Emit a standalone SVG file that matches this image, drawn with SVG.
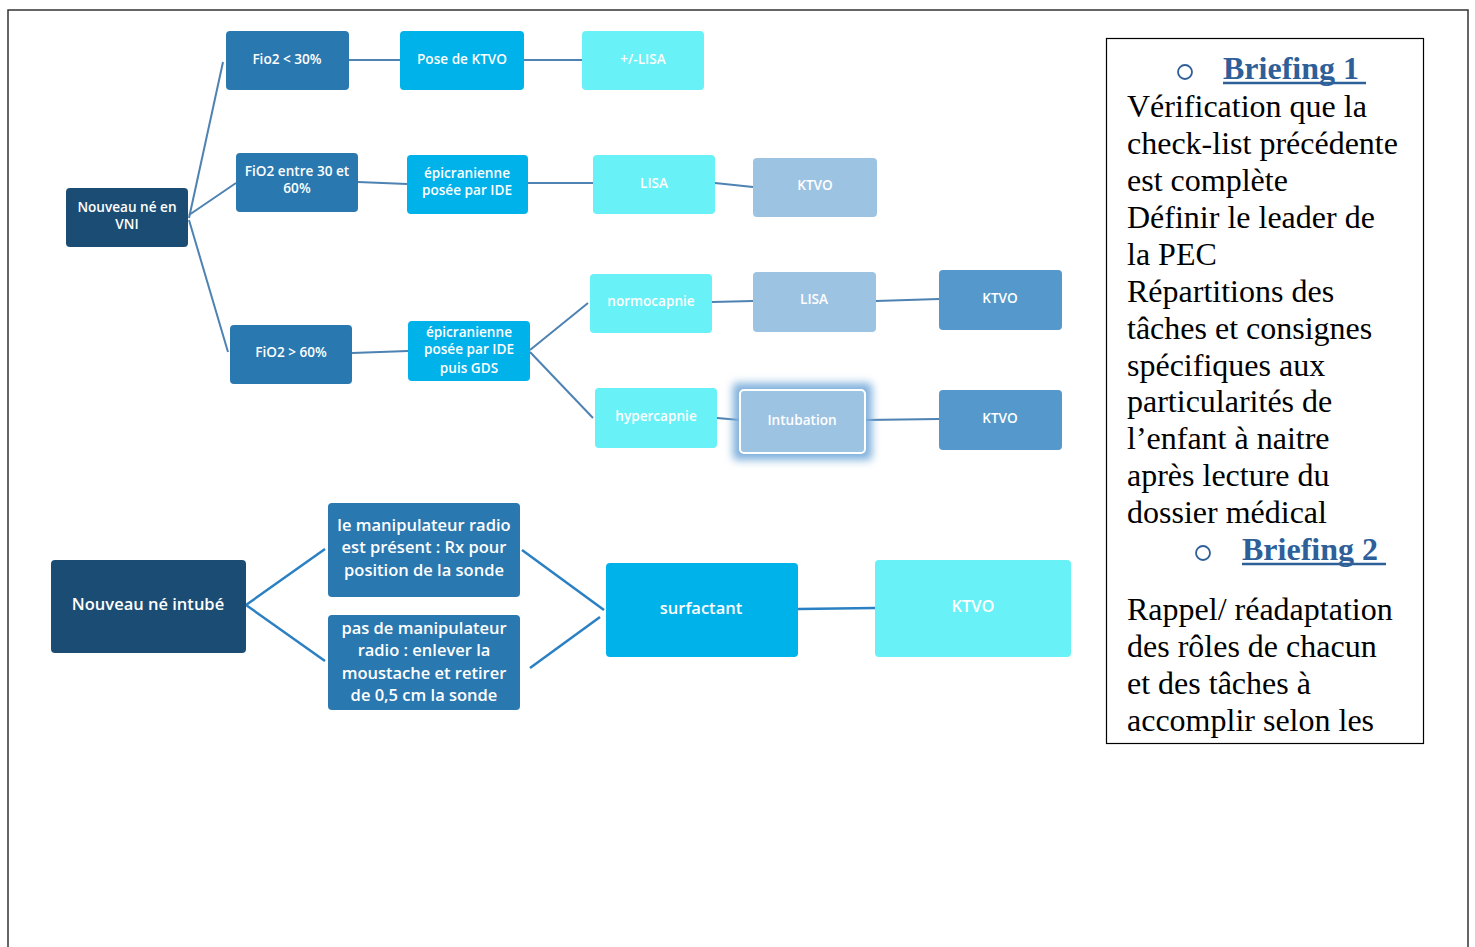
<svg xmlns="http://www.w3.org/2000/svg" width="1475" height="947" viewBox="0 0 1475 947">
<style>
.n rect{rx:4px;}
.t{font-family:"Open Sans","Liberation Sans",sans-serif;font-weight:600;fill:#ffffff;text-anchor:middle;}
.s{font-size:13.6px;}
.b{font-size:16.5px;}
.dk{fill:#1b4d74;}
.md{fill:#2a78b0;}
.bl{fill:#00b2ea;}
.cy{fill:#68f1f6;}
.lb{fill:#9dc3e3;}
.mb{fill:#5599cc;}
.c line{stroke:#4d82b2;stroke-width:2;fill:none;}
.c2 line{stroke:#2a80c2;stroke-width:2.5;}
.tx{font-family:"Liberation Serif","Times New Roman",serif;font-size:32px;fill:#000;}
.hd{font-family:"Liberation Serif","Times New Roman",serif;font-size:32px;font-weight:bold;fill:#2e5f99;}
</style>
<defs>
<filter id="glow" x="-30%" y="-30%" width="160%" height="160%"><feGaussianBlur stdDeviation="4"/></filter>
<clipPath id="boxclip"><rect x="1107" y="39" width="316" height="704"/></clipPath>
</defs>
<rect x="0" y="0" width="1475" height="947" fill="#ffffff"/>
<rect x="8" y="10" width="1460" height="960" fill="none" stroke="#333" stroke-width="1.5"/>

<g id="connectors">
<g class="c">
<line x1="189" y1="218" x2="223" y2="62"/>
<line x1="189" y1="215" x2="236" y2="183"/>
<line x1="189" y1="220" x2="228" y2="352"/>
<line x1="349" y1="60" x2="400" y2="60"/>
<line x1="524" y1="60" x2="582" y2="60"/>
<line x1="358" y1="182" x2="407" y2="184"/>
<line x1="528" y1="183" x2="593" y2="183"/>
<line x1="715" y1="183" x2="753" y2="187"/>
<line x1="352" y1="353" x2="408" y2="351"/>
<line x1="530" y1="350" x2="588" y2="303"/>
<line x1="530" y1="352" x2="593" y2="418"/>
<line x1="712" y1="302" x2="753" y2="301"/>
<line x1="876" y1="301" x2="939" y2="299"/>
<line x1="717" y1="418" x2="740" y2="420"/>
<line x1="865" y1="420" x2="939" y2="419"/>
</g>
<g class="c2">
<line x1="246" y1="605" x2="325" y2="549"/>
<line x1="246" y1="605" x2="325" y2="661"/>
<line x1="522" y1="550" x2="604" y2="610"/>
<line x1="530" y1="668" x2="600" y2="617"/>
<line x1="798" y1="609" x2="875" y2="608"/>
</g>
</g>

<g id="n1" class="n"><rect class="dk" x="66" y="188" width="122" height="59"/><text class="t s" x="127" y="212">Nouveau né en</text><text class="t s" x="127" y="229">VNI</text></g>
<g id="n2" class="n"><rect class="md" x="226" y="31" width="123" height="59"/><text class="t s" x="287" y="64">Fio2 &lt; 30%</text></g>
<g id="n3" class="n"><rect class="bl" x="400" y="31" width="124" height="59"/><text class="t s" x="462" y="64">Pose de KTVO</text></g>
<g id="n4" class="n"><rect class="cy" x="582" y="31" width="122" height="59"/><text class="t s" x="643" y="64">+/-LISA</text></g>
<g id="n5" class="n"><rect class="md" x="236" y="153" width="122" height="59"/><text class="t s" x="297" y="176">FiO2 entre 30 et</text><text class="t s" x="297" y="193">60%</text></g>
<g id="n6" class="n"><rect class="bl" x="407" y="155" width="121" height="59"/><text class="t s" x="467" y="178">épicranienne</text><text class="t s" x="467" y="195">posée par IDE</text></g>
<g id="n7" class="n"><rect class="cy" x="593" y="155" width="122" height="59"/><text class="t s" x="654" y="188">LISA</text></g>
<g id="n8" class="n"><rect class="lb" x="753" y="158" width="124" height="59"/><text class="t s" x="815" y="190">KTVO</text></g>
<g id="n9" class="n"><rect class="md" x="230" y="325" width="122" height="59"/><text class="t s" x="291" y="357">FiO2 &gt; 60%</text></g>
<g id="n10" class="n"><rect class="bl" x="408" y="321" width="122" height="60"/><text class="t s" x="469" y="337">épicranienne</text><text class="t s" x="469" y="354">posée par IDE</text><text class="t s" x="469" y="373">puis GDS</text></g>
<g id="n11" class="n"><rect class="cy" x="590" y="274" width="122" height="59"/><text class="t s" x="651" y="306">normocapnie</text></g>
<g id="n12" class="n"><rect class="lb" x="753" y="272" width="123" height="60"/><text class="t s" x="814" y="304">LISA</text></g>
<g id="n13" class="n"><rect class="mb" x="939" y="270" width="123" height="60"/><text class="t s" x="1000" y="303">KTVO</text></g>
<g id="n14" class="n"><rect class="cy" x="595" y="388" width="122" height="60"/><text class="t s" x="656" y="421">hypercapnie</text></g>
<g id="n15" class="n"><rect x="733" y="383" width="139" height="77" fill="#7fb0dd" filter="url(#glow)"/><rect class="lb" x="740" y="390" width="125" height="63" stroke="#ffffff" stroke-width="2"/><text class="t s" x="802" y="425">Intubation</text></g>
<g id="n16" class="n"><rect class="mb" x="939" y="390" width="123" height="60"/><text class="t s" x="1000" y="423">KTVO</text></g>
<g id="n17" class="n"><rect class="dk" x="51" y="560" width="195" height="93"/><text class="t b" x="148" y="610">Nouveau né intubé</text></g>
<g id="n18" class="n"><rect class="md" x="328" y="503" width="192" height="94"/><text class="t b" x="424" y="531">le manipulateur radio</text><text class="t b" x="424" y="553">est présent : Rx pour</text><text class="t b" x="424" y="576">position de la sonde</text></g>
<g id="n19" class="n"><rect class="md" x="328" y="615" width="192" height="95"/><text class="t b" x="424" y="634">pas de manipulateur</text><text class="t b" x="424" y="656">radio : enlever la</text><text class="t b" x="424" y="679">moustache et retirer</text><text class="t b" x="424" y="701">de 0,5 cm la sonde</text></g>
<g id="n20" class="n"><rect class="bl" x="606" y="563" width="192" height="94"/><text class="t b" x="701" y="614">surfactant</text></g>
<g id="n21" class="n"><rect class="cy" x="875" y="560" width="196" height="97"/><text class="t b" x="973" y="612">KTVO</text></g>

<g id="briefing">
<rect x="1106.5" y="38.5" width="317" height="705" fill="#ffffff" stroke="#000" stroke-width="1.2"/>
<g clip-path="url(#boxclip)">
<circle cx="1185" cy="72" r="7" fill="none" stroke="#2e5f99" stroke-width="1.8"/>
<text class="hd" x="1223" y="79">Briefing 1</text>
<line x1="1223" y1="83" x2="1366" y2="83" stroke="#2e5f99" stroke-width="2.5"/>
<text class="tx" x="1127" y="117">Vérification que la</text>
<text class="tx" x="1127" y="154">check-list précédente</text>
<text class="tx" x="1127" y="191">est complète</text>
<text class="tx" x="1127" y="228">Définir le leader de</text>
<text class="tx" x="1127" y="265">la PEC</text>
<text class="tx" x="1127" y="302">Répartitions des</text>
<text class="tx" x="1127" y="339">tâches et consignes</text>
<text class="tx" x="1127" y="376">spécifiques aux</text>
<text class="tx" x="1127" y="412">particularités de</text>
<text class="tx" x="1127" y="449">l’enfant à naitre</text>
<text class="tx" x="1127" y="486">après lecture du</text>
<text class="tx" x="1127" y="523">dossier médical</text>
<circle cx="1203" cy="553" r="7" fill="none" stroke="#2e5f99" stroke-width="1.8"/>
<text class="hd" x="1242" y="560">Briefing 2</text>
<line x1="1242" y1="564" x2="1386" y2="564" stroke="#2e5f99" stroke-width="2.5"/>
<text class="tx" x="1127" y="620">Rappel/ réadaptation</text>
<text class="tx" x="1127" y="657">des rôles de chacun</text>
<text class="tx" x="1127" y="694">et des tâches à</text>
<text class="tx" x="1127" y="731">accomplir selon les</text>
</g>
</g>
</svg>
